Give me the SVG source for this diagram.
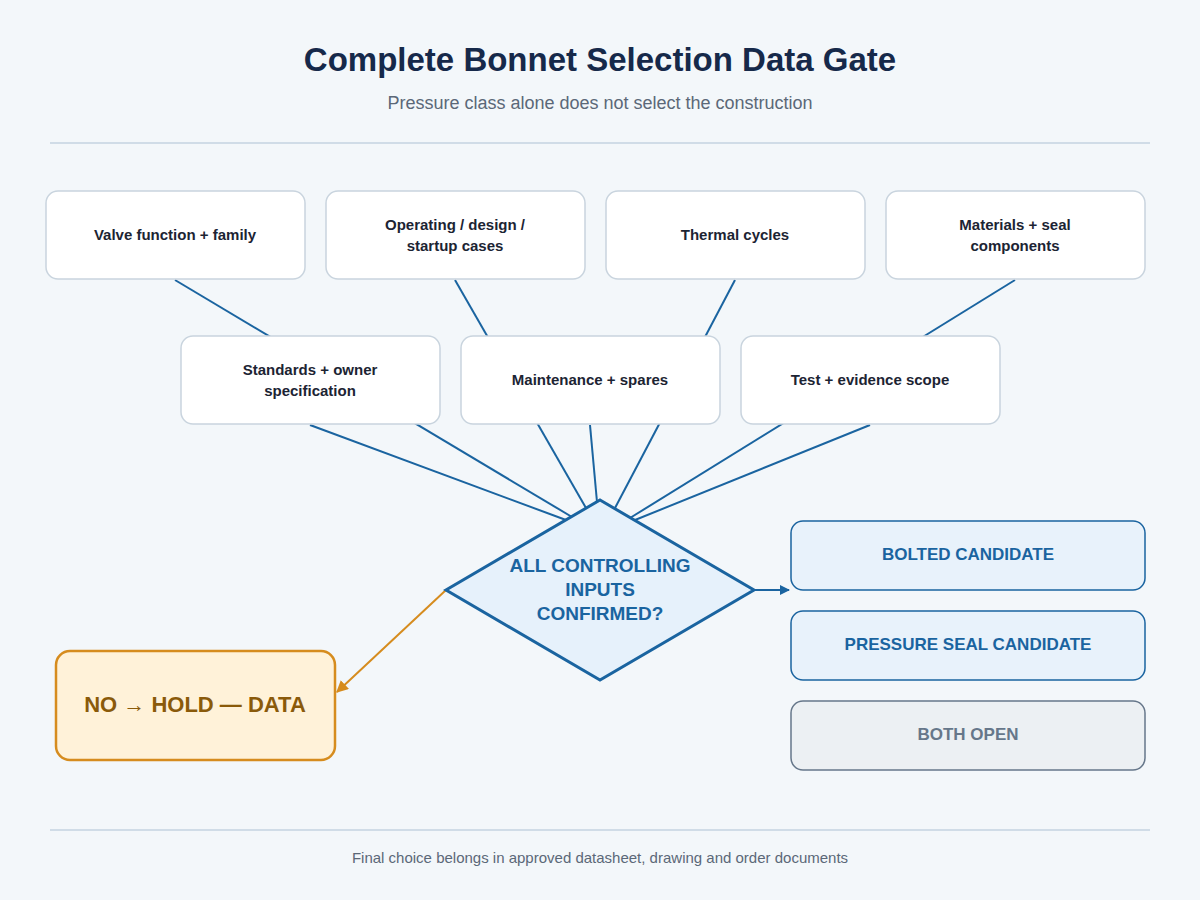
<svg xmlns="http://www.w3.org/2000/svg" width="1200" height="900" viewBox="0 0 1200 900">
<style>
text{font-family:"Liberation Sans",Arial,sans-serif;text-anchor:middle}
.in rect{fill:#fff;stroke:#c9d4de;stroke-width:1.5}
.in text{font-size:15px;font-weight:bold;fill:#1c2433}
.c line{stroke:#1a64a0;stroke-width:2}
.out rect{fill:#e8f2fb;stroke:#1a64a0;stroke-width:1.5}
.out text{font-size:17px;font-weight:bold;fill:#1a64a0}
</style>
<defs>
<marker id="ab" viewBox="0 0 10 10" refX="9" refY="5" markerWidth="5" markerHeight="5" orient="auto"><path d="M0,0L10,5L0,10z" fill="#1a64a0"/></marker>
<marker id="ao" viewBox="0 0 10 10" refX="9" refY="5" markerWidth="6" markerHeight="6" orient="auto"><path d="M0,0L10,5L0,10z" fill="#d68c1e"/></marker>
</defs>
<rect width="1200" height="900" fill="#f3f7fa"/>
<text x="600" y="71" font-size="33" font-weight="bold" fill="#16294a">Complete Bonnet Selection Data Gate</text>
<text x="600" y="109" font-size="18" fill="#5b6878">Pressure class alone does not select the construction</text>
<line x1="50" y1="143" x2="1150" y2="143" stroke="#c5d3e0" stroke-width="1.5"/>
<line x1="50" y1="830" x2="1150" y2="830" stroke="#c5d3e0" stroke-width="1.5"/>
<text x="600" y="863" font-size="15" fill="#5b6878">Final choice belongs in approved datasheet, drawing and order documents</text>
<g class="c" id="connectors">
<line x1="175" y1="280" x2="572" y2="517"/>
<line x1="455" y1="280" x2="586" y2="508"/>
<line x1="735" y1="280" x2="615" y2="508"/>
<line x1="1015" y1="280" x2="630" y2="518"/>
<line x1="310" y1="425" x2="566" y2="520"/>
<line x1="590" y1="425" x2="597" y2="502"/>
<line x1="870" y1="425" x2="635" y2="520"/>
<line x1="754" y1="590" x2="789" y2="590" stroke-width="4" marker-end="url(#ab)"/>
<line x1="446" y1="590" x2="337" y2="692" style="stroke:#d68c1e" marker-end="url(#ao)"/>
</g>
<g class="in" id="n1"><rect x="46" y="191" width="259" height="88" rx="12"/><text x="175" y="240">Valve function + family</text></g>
<g class="in" id="n2"><rect x="326" y="191" width="259" height="88" rx="12"/><text x="455" y="230">Operating / design /</text><text x="455" y="251">startup cases</text></g>
<g class="in" id="n3"><rect x="606" y="191" width="259" height="88" rx="12"/><text x="735" y="240">Thermal cycles</text></g>
<g class="in" id="n4"><rect x="886" y="191" width="259" height="88" rx="12"/><text x="1015" y="230">Materials + seal</text><text x="1015" y="251">components</text></g>
<g class="in" id="n5"><rect x="181" y="336" width="259" height="88" rx="12"/><text x="310" y="375">Standards + owner</text><text x="310" y="396">specification</text></g>
<g class="in" id="n6"><rect x="461" y="336" width="259" height="88" rx="12"/><text x="590" y="385">Maintenance + spares</text></g>
<g class="in" id="n7"><rect x="741" y="336" width="259" height="88" rx="12"/><text x="870" y="385">Test + evidence scope</text></g>
<g id="gate"><path d="M600,500L754,590L600,680L446,590z" fill="#e6f1fb" stroke="#1a64a0" stroke-width="3"/>
<text x="600" y="572" font-size="19" font-weight="bold" fill="#1a64a0">ALL CONTROLLING</text><text x="600" y="596" font-size="19" font-weight="bold" fill="#1a64a0">INPUTS</text><text x="600" y="620" font-size="19" font-weight="bold" fill="#1a64a0">CONFIRMED?</text></g>
<g class="out" id="bolted"><rect x="791" y="521" width="354" height="69" rx="12"/><text x="968" y="560">BOLTED CANDIDATE</text></g>
<g class="out" id="pseal"><rect x="791" y="611" width="354" height="69" rx="12"/><text x="968" y="650">PRESSURE SEAL CANDIDATE</text></g>
<g id="both"><rect x="791" y="701" width="354" height="69" rx="12" fill="#ecf0f3" stroke="#66778a" stroke-width="1.5"/><text x="968" y="740" font-size="17" font-weight="bold" fill="#66778a">BOTH OPEN</text></g>
<g id="hold"><rect x="56" y="651" width="279" height="109" rx="14" fill="#fff2d9" stroke="#d68c1e" stroke-width="2.5"/><text x="195" y="712" font-size="22" font-weight="bold" fill="#8a5a0a">NO → HOLD — DATA</text></g>
</svg>
